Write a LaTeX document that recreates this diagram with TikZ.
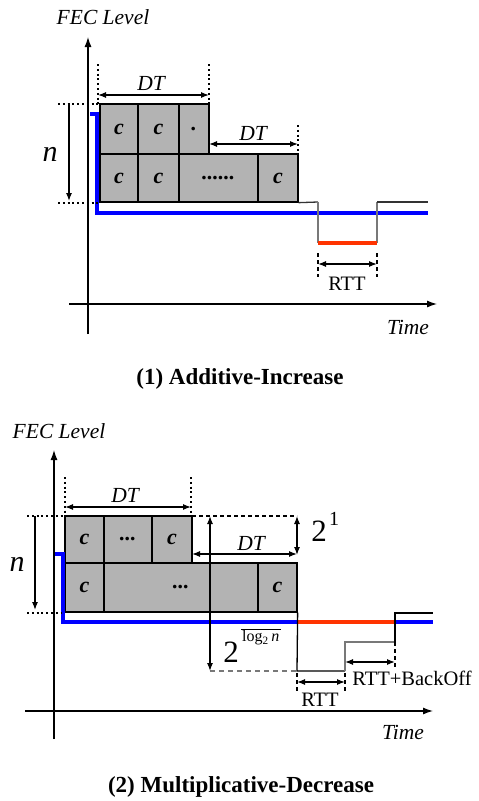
\documentclass[tikz,border=0pt]{standalone}
\usepackage{fontspec}
\setmainfont{Liberation Serif}
\usetikzlibrary{arrows.meta}
\definecolor{boxgray}{RGB}{179,179,179}
\definecolor{fecblue}{RGB}{0,0,255}
\definecolor{fecred}{RGB}{255,51,0}
\definecolor{stepgray}{RGB}{120,120,120}
\newcommand\cfont{\fontsize{22}{22}\selectfont\bfseries\itshape}
\newcommand\ifont{\fontsize{21.5}{22}\selectfont\itshape}
\newcommand\rfont{\fontsize{20.5}{22}\selectfont}
\newcommand\nfont{\fontsize{30}{30}\selectfont\itshape}
\newcommand\capfont{\fontsize{23}{24}\selectfont\bfseries}
\begin{document}
\begin{tikzpicture}[x=1pt,y=-1pt,
  cell/.style={draw=black, fill=boxgray, line width=1.3pt, inner sep=0pt, font=\cfont},
  lbl/.style={inner sep=0pt, font=\ifont},
  rlbl/.style={inner sep=0pt, font=\rfont},
  axisarrow/.style={line width=1.2pt, -{Latex[length=10pt,width=7pt]}},
  dimboth/.style={line width=1.2pt, {Latex[length=8pt,width=6pt]}-{Latex[length=8pt,width=6pt]}},
  dimend/.style={line width=1.2pt, -{Latex[length=8pt,width=6pt]}},
  dotline/.style={line width=2pt, dash pattern=on 2pt off 2.8pt},
  tickdash/.style={line width=1.1pt, dash pattern=on 4pt off 3pt},
  greydash/.style={line width=1.5pt, draw=stepgray, dash pattern=on 5pt off 4pt},
  blackdash/.style={line width=1.2pt, dash pattern=on 4pt off 3pt},
  bluel/.style={draw=fecblue, line width=4pt},
  redl/.style={draw=fecred, line width=4pt},
  stepl/.style={draw=black!80, line width=1.3pt},
  stepv/.style={draw=stepgray, line width=1.8pt}
]
\useasboundingbox (0,0) rectangle (479,801);

% ================= (1) Additive-Increase =================
\node[lbl] (fec1) at (103,17) {FEC Level};
\node[lbl] (time1) at (408,327) {Time};
\coordinate (y1b) at (88,334); \coordinate (y1t) at (88,37);
\coordinate (x1l) at (69,304); \coordinate (x1r) at (437,304);
\draw[axisarrow] (y1b) -- (y1t);
\draw[axisarrow] (x1l) -- (x1r);

% boxes
\node[cell, minimum width=38pt, minimum height=50pt] (a1) at (119,129) {c};
\node[cell, minimum width=41pt, minimum height=50pt] (a2) at (158.5,129) {c};
\node[cell, minimum width=30pt, minimum height=50pt] (a3) at (194,129) {.};
\node[cell, minimum width=38pt, minimum height=48pt] (b1) at (119,178) {c};
\node[cell, minimum width=41pt, minimum height=48pt] (b2) at (158.5,178) {c};
\node[cell, minimum width=79pt, minimum height=48pt] (b3) at (218.5,178) {......};
\node[cell, minimum width=40pt, minimum height=48pt] (b4) at (278,178) {c};

% blue FEC level line
\coordinate (bl1) at (90,114); \coordinate (bl2) at (97,114);
\coordinate (bl3) at (97,213); \coordinate (bl4) at (428,213);
\draw[bluel] (bl1) -- (bl2) -- (bl3) -- (bl4);

% step line
\coordinate (s1) at (b4.south east); \coordinate (s2) at (318,202);
\coordinate (s3) at (318,243); \coordinate (s4) at (377,243);
\coordinate (s5) at (377,202); \coordinate (s6) at (428,202);
\draw[stepl] (s1) -- (s2);
\draw[stepv] (s2) -- (s3);
\draw[stepv] (s4) -- (s5);
\draw[stepl] (s5) -- (s6);
\draw[redl] (s3) -- (s4);

% DT markers
\coordinate (d1a) at (98,64); \coordinate (d1b) at (98,104);
\coordinate (d2a) at (209,64); \coordinate (d2b) at (209,104);
\coordinate (d3a) at (298,125); \coordinate (d3b) at (298,154);
\draw[dotline] (d1a) -- (d1b);
\draw[dotline] (d2a) -- (d2b);
\draw[dotline] (d3a) -- (d3b);
\coordinate (dt1l) at (98,95); \coordinate (dt1r) at (209,95);
\draw[dimboth] (dt1l) -- (dt1r);
\node[lbl] (dt1) at (151,83) {DT};
\coordinate (dt2l) at (209,144); \coordinate (dt2r) at (298,144);
\draw[dimboth] (dt2l) -- (dt2r);
\node[lbl] (dt2) at (253,133) {DT};

% n marker
\coordinate (h1a) at (58,104); \coordinate (h1b) at (99,104);
\coordinate (h2a) at (58,203); \coordinate (h2b) at (99,203);
\draw[dotline] (h1a) -- (h1b);
\draw[dotline] (h2a) -- (h2b);
\coordinate (n1t) at (69,104); \coordinate (n1b) at (69,201);
\draw[dimend] (n1t) -- (n1b);
\node[inner sep=0pt, font=\nfont] (n1) at (50,154) {n};

% RTT
\coordinate (r1a) at (318,253); \coordinate (r1b) at (318,277);
\coordinate (r2a) at (377,253); \coordinate (r2b) at (377,277);
\draw[tickdash] (r1a) -- (r1b);
\draw[tickdash] (r2a) -- (r2b);
\coordinate (rt1l) at (318,264); \coordinate (rt1r) at (377,264);
\draw[dimboth] (rt1l) -- (rt1r);
\node[rlbl] (rtt1) at (347,284) {RTT};

\node[inner sep=0pt, font=\capfont] (cap1) at (240,379) {(1) Additive-Increase};

% ================= (2) Multiplicative-Decrease =================
\node[lbl] (fec2) at (59,431) {FEC Level};
\node[lbl] (time2) at (403,732) {Time};
\coordinate (y2b) at (54,739); \coordinate (y2t) at (54,450);
\coordinate (x2l) at (25,711); \coordinate (x2r) at (433,711);
\draw[axisarrow] (y2b) -- (y2t);
\draw[axisarrow] (x2l) -- (x2r);

\node[cell, minimum width=39pt, minimum height=47pt] (d1) at (84.5,539.5) {c};
\node[cell, minimum width=48pt, minimum height=47pt] (d2) at (128,539.5) {...};
\node[cell, minimum width=40pt, minimum height=47pt] (d3) at (172,539.5) {c};
\node[cell, minimum width=39pt, minimum height=49pt] (e1) at (84.5,587.5) {c};
\node[cell, minimum width=154pt, minimum height=49pt] (e2) at (181,587.5) {...};
\node[cell, minimum width=39pt, minimum height=49pt] (e3) at (277.5,587.5) {c};

% blue / red level line
\coordinate (cl1) at (55,554); \coordinate (cl2) at (62.5,554);
\coordinate (cl3) at (62.5,622); \coordinate (cl4) at (297,622);
\coordinate (cl5) at (395,622); \coordinate (cl6) at (433,622);
\draw[bluel] (cl1) -- (cl2) -- (cl3) -- (cl4);
\draw[bluel] (cl5) -- (cl6);
\draw[redl] (cl4) -- (cl5);

% step line
\coordinate (t1) at (e3.south east); \coordinate (t2) at (297,671);
\coordinate (t3) at (345,671); \coordinate (t4) at (345,642);
\coordinate (t5) at (395,642); \coordinate (t6) at (395,613);
\coordinate (t7) at (433,613);
\draw[line width=1.3pt] (t1) -- (t2) -- (t3);
\draw[stepv] (t3) -- (t4) -- (t5);
\draw[line width=1.3pt] (t5) -- (t6) -- (t7);

% DT markers
\coordinate (f1a) at (65,477); \coordinate (f1b) at (65,515);
\coordinate (f2a) at (191,477); \coordinate (f2b) at (191,515);
\draw[dotline] (f1a) -- (f1b);
\draw[dotline] (f2a) -- (f2b);
\coordinate (dt3l) at (65,507); \coordinate (dt3r) at (191,507);
\draw[dimboth] (dt3l) -- (dt3r);
\node[lbl] (dt3) at (125,495) {DT};
\coordinate (dt4l) at (192,554); \coordinate (dt4r) at (297,554);
\draw[dimboth] (dt4l) -- (dt4r);
\node[lbl] (dt4) at (251,543) {DT};

% 2^1 and 2^log n markers
\coordinate (g1a) at (192,516); \coordinate (g1b) at (297,516);
\draw[blackdash] (g1a) -- (g1b);
\coordinate (g2a) at (210,671); \coordinate (g2b) at (297,671);
\draw[greydash] (g2a) -- (g2b);
\coordinate (v1t) at (210,516); \coordinate (v1b) at (210,671);
\draw[dimboth] (v1t) -- (v1b);
\coordinate (v2t) at (297,516); \coordinate (v2b) at (297,555);
\draw[dimboth] (v2t) -- (v2b);
\node[inner sep=0pt, font=\fontsize{31}{31}\selectfont] (two1) at (319,531) {2};
\node[inner sep=0pt, font=\fontsize{20}{20}\selectfont] (one1) at (334,519) {1};
\node[inner sep=0pt, font=\fontsize{31}{31}\selectfont] (two2) at (231,652) {2};
\node[inner sep=1pt, font=\fontsize{16}{16}\selectfont, anchor=west] (logn) at (241,638) {log\textsubscript{2}\,\textit{n}};
\draw[line width=1pt] (logn.north west) -- (logn.north east);

% n marker
\coordinate (k1a) at (27,516); \coordinate (k1b) at (64,516);
\coordinate (k2a) at (27,613); \coordinate (k2b) at (62,613);
\draw[dotline] (k1a) -- (k1b);
\draw[dotline] (k2a) -- (k2b);
\coordinate (n2t) at (35,516); \coordinate (n2b) at (35,610);
\draw[dimend] (n2t) -- (n2b);
\node[inner sep=0pt, font=\nfont] (n2) at (17,564) {n};

% RTT
\coordinate (q1a) at (297,673); \coordinate (q1b) at (297,691);
\coordinate (q2a) at (345,673); \coordinate (q2b) at (345,691);
\draw[tickdash] (q1a) -- (q1b);
\draw[tickdash] (q2a) -- (q2b);
\coordinate (rt2l) at (297,682); \coordinate (rt2r) at (345,682);
\draw[dimboth] (rt2l) -- (rt2r);
\node[rlbl] (rtt2) at (320,700) {RTT};
\coordinate (q3a) at (395,642); \coordinate (q3b) at (395,668);
\draw[tickdash] (q3a) -- (q3b);
\coordinate (rb2l) at (345,662); \coordinate (rb2r) at (395,662);
\draw[dimboth] (rb2l) -- (rb2r);
\node[rlbl] (rbo) at (412,678) {RTT+BackOff};

\node[inner sep=0pt, font=\capfont] (cap2) at (241,787) {(2) Multiplicative-Decrease};
\end{tikzpicture}
\end{document}
